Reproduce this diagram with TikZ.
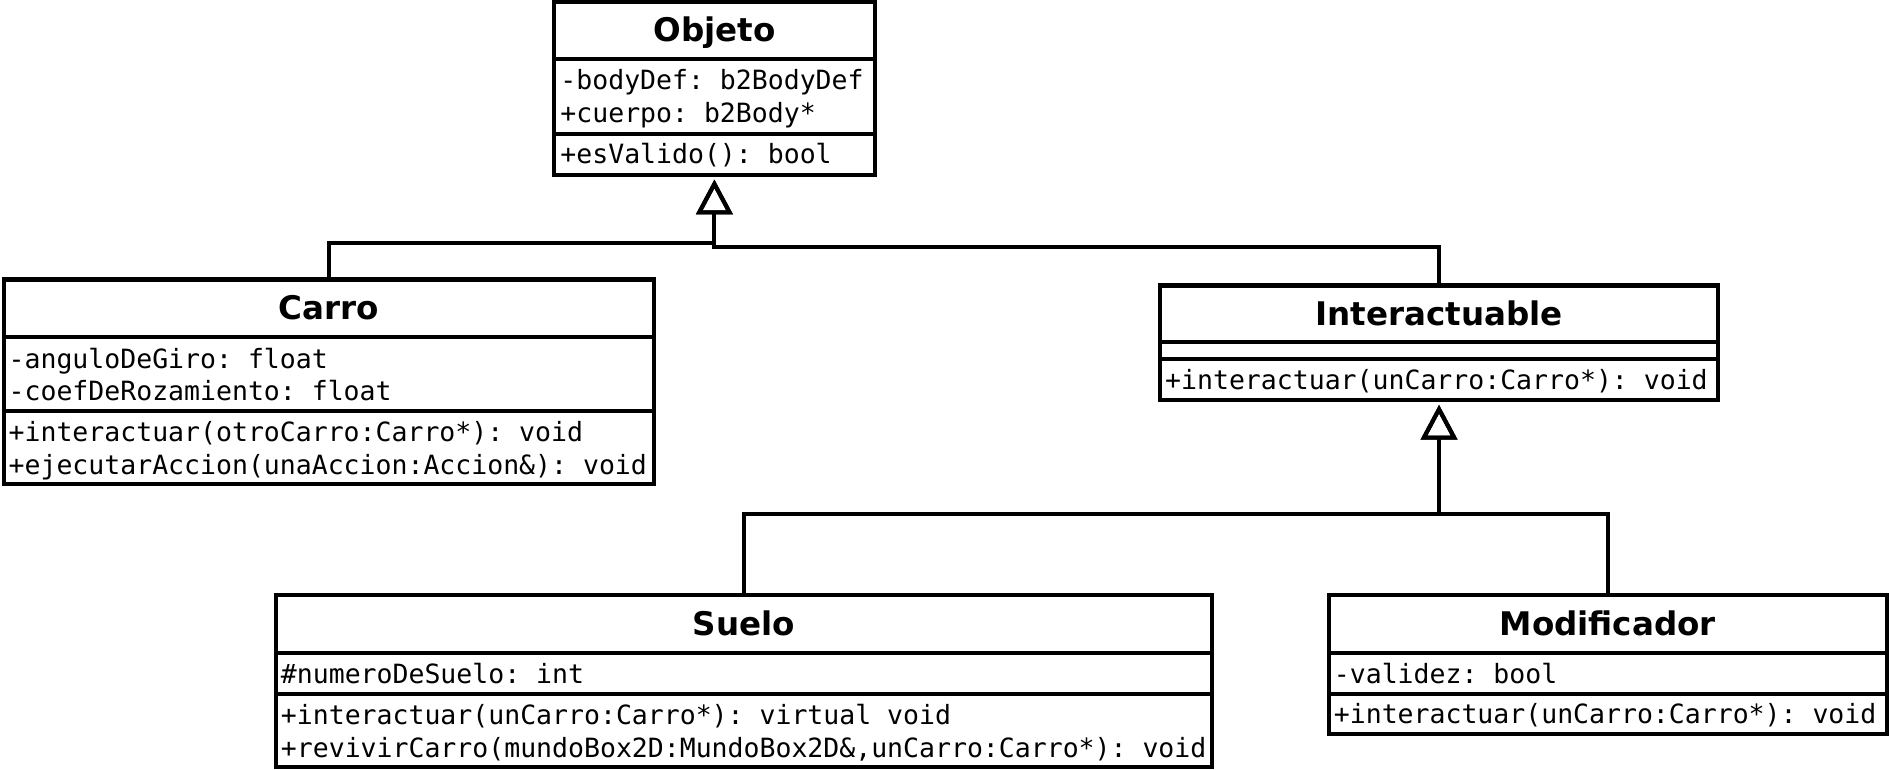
\documentclass[tikz,border=0pt]{standalone}
\usepackage{fontspec}
\setmainfont{DejaVu Sans}
\setmonofont{DejaVu Sans Mono}
\usetikzlibrary{arrows.meta}
\begin{document}
\begin{tikzpicture}[x=1pt,y=-1pt,
  cls/.style={draw, line width=3.4pt, inner sep=0pt, outer sep=0pt},
  divline/.style={line width=3.4pt},
  ttl/.style={font=\bfseries\fontsize{27}{27}\selectfont, inner sep=0pt, text height=19.7pt, text depth=0pt, anchor=center},
  mem/.style={font=\ttfamily\fontsize{22}{22}\selectfont, inner sep=0pt, anchor=base west},
  inh/.style={line width=3.4pt, line join=miter, -{Triangle[open, length=29pt, width=30pt, line width=3.4pt]}}
]
\useasboundingbox (0,0) rectangle (1568,639);

% Objeto
\node[cls, minimum width=266pt, minimum height=143pt] (objeto) at (593,73.5) {};
\draw[divline] (460,49) -- (726,49);
\draw[divline] (460,111) -- (726,111);
\node[ttl] (objetoT) at (593,25) {Objeto};
\node[mem] (o1) at (465,74.5) {-bodyDef: b2BodyDef};
\node[mem] (o2) at (465,101.5) {+cuerpo: b2Body*};
\node[mem] (o3) at (465,136) {+esValido(): bool};

% Carro
\node[cls, minimum width=540pt, minimum height=170pt] (carro) at (273,317) {};
\draw[divline] (3,280) -- (543,280);
\draw[divline] (3,341) -- (543,341);
\node[ttl] (carroT) at (273,255.5) {Carro};
\node[mem] (c1) at (7,305.5) {-anguloDeGiro: float};
\node[mem] (c2) at (7,332.5) {-coefDeRozamiento: float};
\node[mem] (c3) at (7,366.5) {+interactuar(otroCarro:Carro*): void};
\node[mem] (c4) at (7,393.5) {+ejecutarAccion(unaAccion:Accion\&): void};

% Interactuable
\node[cls, minimum width=463pt, minimum height=95pt] (interact) at (1194.5,284.5) {};
\draw[divline] (963,284) -- (1426,284);
\draw[divline] (963,298) -- (1426,298);
\node[ttl] (interactT) at (1194.5,260) {Interactuable};
\node[mem] (i1) at (967,323) {+interactuar(unCarro:Carro*): void};

% Suelo
\node[cls, minimum width=777pt, minimum height=143pt] (suelo) at (617.5,565.5) {};
\draw[divline] (229,542) -- (1006,542);
\draw[divline] (229,576) -- (1006,576);
\node[ttl] (sueloT) at (617.5,517.5) {Suelo};
\node[mem] (s1) at (233,567) {\#numeroDeSuelo: int};
\node[mem] (s2) at (233,601.5) {+interactuar(unCarro:Carro*): virtual void};
\node[mem] (s3) at (233,628.5) {+revivirCarro(mundoBox2D:MundoBox2D\&,unCarro:Carro*): void};

% Modificador
\node[cls, minimum width=463pt, minimum height=115pt] (modif) at (1334.5,551.5) {};
\draw[divline] (1103,542) -- (1566,542);
\draw[divline] (1103,576) -- (1566,576);
\node[ttl] (modifT) at (1334.5,517.5) {Modificador};
\node[mem] (m1) at (1107,567) {-validez: bool};
\node[mem] (m2) at (1107,600.5) {+interactuar(unCarro:Carro*): void};

% Generalizations
\coordinate (objtip) at (593,149);
\coordinate (j1) at (593,202);
\coordinate (j2) at (593,205);
\draw[inh] (carro.north) |- (j1) -- (objtip);
\draw[inh] (interact.north) |- (j2) -- (objtip);

\coordinate (inttip) at (1194.5,336);
\coordinate (j3) at (1194.5,427);
\draw[inh] (suelo.north) |- (j3) -- (inttip);
\draw[inh] (modif.north) |- (j3) -- (inttip);
\end{tikzpicture}
\end{document}
